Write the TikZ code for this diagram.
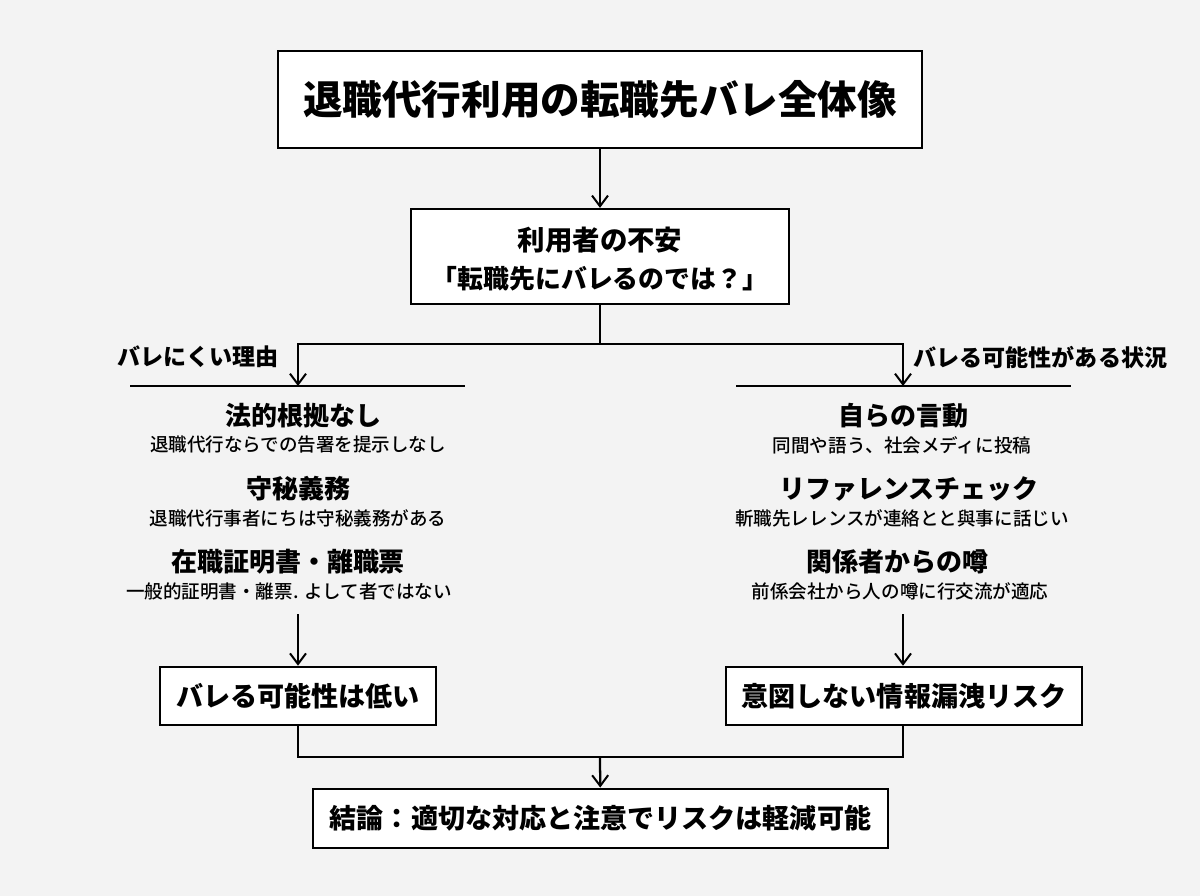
\documentclass[tikz,border=0pt]{standalone}
\usepackage{fontspec}
\setmainfont{Noto Sans CJK JP}
\newfontfamily\subfont{Noto Sans CJK JP Medium}
\usetikzlibrary{arrows.meta}
\definecolor{paper}{HTML}{F3F3F3}
\tikzset{every picture/.style={line width=0.75pt}}
\tikzset{
boxnode/.style={draw=black,fill=white,line width=1.9pt,inner sep=0pt,font=\bfseries},
headnode/.style={inner sep=0pt,font=\fontsize{19.5}{22}\selectfont\bfseries},
subnode/.style={inner sep=0pt,font=\fontsize{13.9}{16}\selectfont\subfont},
sidenode/.style={inner sep=0pt,font=\fontsize{17.3}{20}\selectfont\bfseries},
line/.style={line width=1.7pt},
arrow/.style={line width=1.7pt,-{Straight Barb[length=8pt,width=12pt,line width=1.5pt]}}}

\begin{document}
\begin{tikzpicture}[x=0.75pt,y=0.75pt,yscale=-1,xscale=1]
    \fill [paper] (0,0) rectangle (1200,896);
    \useasboundingbox (0,0) rectangle (1200,896);

    %Top boxes
    \node [boxnode,minimum width=483pt,minimum height=72.5pt,font=\fontsize{29.7}{34}\selectfont\bfseries] (titlebox) at (600,99.5) {\raisebox{-0.75pt}{退職代行利用の転職先バレ全体像}};
    \node [boxnode,minimum width=283.5pt,minimum height=71pt,align=center,font=\fontsize{20.6}{29}\selectfont\bfseries] (worrybox) at (600,256.5) {\smash{\raisebox{-9.7pt}{利用者の不安}}\\\smash{\raisebox{-9.7pt}{\fontsize{19.4}{24}\selectfont 「転職先にバレるのでは？」}}};

    %Branch points and bars
    \coordinate (splitmid) at (600,344);
    \coordinate (splitleft) at (298,344);
    \coordinate (splitright) at (903,344);
    \coordinate (barleftstart) at (130,386);
    \coordinate (barleftend) at (465,386);
    \coordinate (barleftmid) at (298,386);
    \coordinate (barrightstart) at (736,386);
    \coordinate (barrightend) at (1071,386);
    \coordinate (barrightmid) at (903,386);

    \node [sidenode,anchor=west] (easylabel) at (117,357) {バレにくい理由};
    \node [sidenode,anchor=west] (hardlabel) at (913,357) {バレる可能性がある状況};

    %Left column
    \node [headnode] (legalhead) at (303,415.5) {法的根拠なし};
    \node [subnode] (legalsub) at (298,445) {退職代行ならでの告署を提示しなし};
    \node [headnode] (secrethead) at (298,488.5) {守秘義務};
    \node [subnode] (secretsub) at (298,518.5) {退職代行事者にちは守秘義務がある};
    \node [headnode] (certhead) at (288,561.5) {在職証明書・離職票};
    \node [subnode] (certsub) at (289,591.5) {一般的証明書・離票. よして者ではない};

    %Right column
    \node [headnode] (acthead) at (903,415.5) {自らの言動};
    \node [subnode] (actsub) at (902,445) {同間や語う、社会メディに投稿};
    \node [headnode] (refhead) at (909,488.5) {リファレンスチェック};
    \node [subnode] (refsub) at (902,518.5) {斬職先レレンスが連絡とと與事に話じい};
    \node [headnode] (rumorhead) at (897,561.5) {関係者からの噂};
    \node [subnode] (rumorsub) at (900,591.5) {前係会社から人の噂に行交流が適応};

    %Result boxes
    \coordinate (lowstart) at (298,614);
    \coordinate (leakstart) at (903,614);
    \node [boxnode,minimum width=207pt,minimum height=43.5pt,font=\fontsize{20.3}{24}\selectfont\bfseries] (lowbox) at (298,696) {バレる可能性は低い};
    \node [boxnode,minimum width=267pt,minimum height=43.5pt,font=\fontsize{20.3}{24}\selectfont\bfseries] (leakbox) at (904,696) {意図しない情報漏洩リスク};
    \node [boxnode,minimum width=431pt,minimum height=44.5pt,font=\fontsize{20.3}{24}\selectfont\bfseries] (endbox) at (600.5,818.5) {結論：適切な対応と注意でリスクは軽減可能};
    \coordinate (mergemid) at (600,757);

    %Connectors
    \draw [arrow] (titlebox) -- (worrybox);
    \draw [line] (worrybox) -- (splitmid);
    \draw [arrow] (splitmid) -- (splitleft) -- (barleftmid);
    \draw [arrow] (splitmid) -- (splitright) -- (barrightmid);
    \draw [line] (barleftstart) -- (barleftend);
    \draw [line] (barrightstart) -- (barrightend);
    \draw [arrow] (lowstart) -- (lowbox);
    \draw [arrow] (leakstart) -- (leakstart |- leakbox.north);
    \draw [line] (lowbox) |- (mergemid);
    \draw [line] (leakstart |- leakbox.south) |- (mergemid);
    \draw [arrow] (mergemid) -- (endbox);
\end{tikzpicture}
\end{document}
